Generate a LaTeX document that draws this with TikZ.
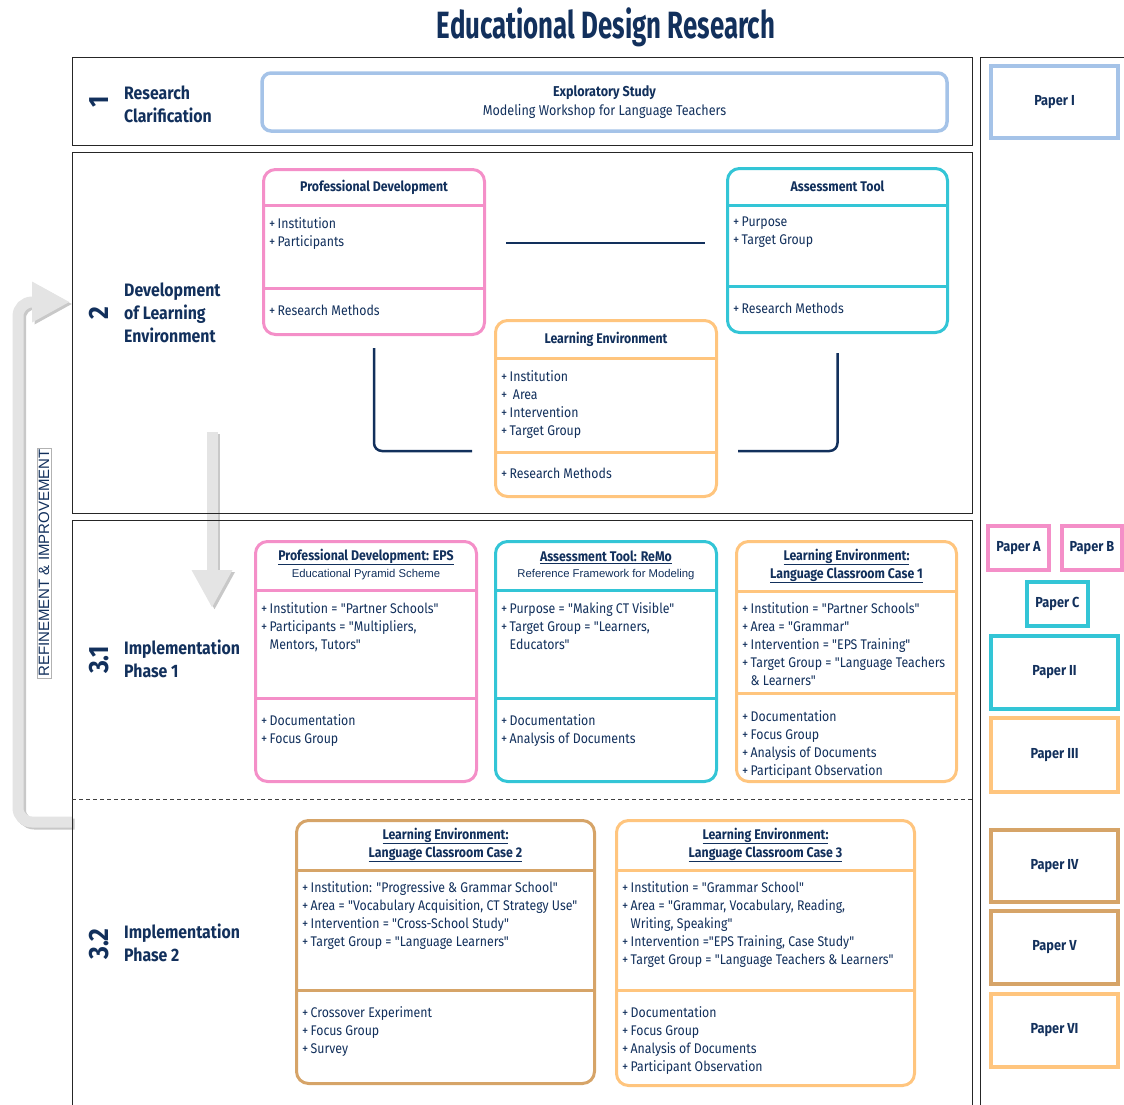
\documentclass[tikz,border=0pt]{standalone}
\usepackage{fontspec}
\setmainfont{Fira Sans}[FakeStretch=0.88, Ligatures=TeXOff]
\newfontfamily\titlefont{Fira Sans}[FakeStretch=0.68]
\newfontfamily\arialfont{Liberation Sans}
\usetikzlibrary{positioning, arrows.meta, calc}

\definecolor{navy}{HTML}{12305C}
\definecolor{pinkc}{HTML}{F48FC8}
\definecolor{cyanc}{HTML}{33C5D6}
\definecolor{orangec}{HTML}{FFC57E}
\definecolor{tanc}{HTML}{D6A468}
\definecolor{bluec}{HTML}{A5C3E8}
\definecolor{arrowgray}{HTML}{E4E4E4}
\definecolor{shadegray}{HTML}{C8C8C8}

\tikzset{
  frame/.style={draw=black!85, line width=1pt, inner sep=0pt},
  umlbox/.style={draw=#1, line width=3pt, rounded corners=12pt, fill=white, inner sep=0pt, anchor=north west},
  divider/.style={draw=#1, line width=3pt},
  paper/.style={draw=#1, line width=3.5pt, text=navy, inner sep=0pt, font=\bfseries\fontsize{14.5}{14.5}\selectfont},
  hd/.style={text=navy, inner sep=0pt, align=center, font=\bfseries\fontsize{14}{18}\selectfont},
  subhd/.style={text=navy, inner sep=0pt, font=\arialfont\fontsize{11.3}{12}\selectfont},
  item/.style={text=navy, inner sep=0pt, align=left, anchor=north west, font=\fontsize{14}{18}\selectfont},
  phase/.style={text=navy, inner sep=0pt, align=left, anchor=west, font=\bfseries\fontsize{18}{23}\selectfont},
  num/.style={text=navy, inner sep=0pt, rotate=90, font=\bfseries\fontsize{28}{28}\selectfont},
  link/.style={draw=navy, line width=2.5pt, rounded corners=8pt},
  garrow/.style={draw=arrowgray, line width=11pt, -{Triangle[width=38pt,length=38pt]}},
  gshadow/.style={garrow, draw=shadegray, transform canvas={xshift=2.5pt, yshift=-2pt}}
}

\begin{document}
\begin{tikzpicture}[x=1pt, y=-1pt]
\useasboundingbox (0,0) rectangle (1124,1104);

\node[text=navy, font=\titlefont\bfseries\fontsize{38}{38}\selectfont] (title) at (606,27) {Educational Design Research};

% feedback arrows
\coordinate (dnA) at (212,432);
\coordinate (dnB) at (212,608);
\coordinate (lpA) at (72,822);
\coordinate (lpB) at (70,302);
\draw[gshadow] (dnA) -- (dnB);
\draw[garrow] (dnA) -- (dnB);
\draw[gshadow, rounded corners=14pt] (lpA) -| (18,302) -- (lpB);
\draw[garrow, rounded corners=14pt] (lpA) -| (18,302) -- (lpB);
\node[draw=black!30, line width=0.4pt, inner sep=1.5pt, rotate=90, text=navy, font=\arialfont\fontsize{15}{15}\selectfont] (refine) at (44,563) {REFINEMENT \& IMPROVEMENT};

% frames
\node[frame, anchor=north west, minimum width=900, minimum height=88] (sec1) at (72,57) {};
\node[frame, anchor=north west, minimum width=900, minimum height=361] (sec2) at (72,152) {};
\node[frame, anchor=north west, minimum width=900, minimum height=592] (sec3) at (72,520) {};
\draw[frame] (1130,57) -| (980,1110);
\draw[black!75, line width=0.8pt, dash pattern=on 4pt off 3pt] (sec3.west |- 0,799) -- (sec3.east |- 0,799);

% phase labels
\node[num] (n1) at (99,102) {1};
\node[phase] (l1) at (124,104) {Research\\Clarification};
\node[num] (n2) at (99,313) {2};
\node[phase] (l2) at (124,313) {Development\\of Learning\\Environment};
\node[num] (n31) at (99,660) {3.1};
\node[phase] (l31) at (124,658.5) {Implementation\\Phase 1};
\node[num] (n32) at (99,944) {3.2};
\node[phase] (l32) at (124,942.5) {Implementation\\Phase 2};

% 1 research clarification
\node[draw=bluec, line width=3.5pt, rounded corners=9pt, minimum width=685, minimum height=58, align=center, text=navy, font=\fontsize{14.3}{19}\selectfont] (expl) at (604.5,102) {{\bfseries Exploratory Study}\\Modeling Workshop for Language Teachers};

% 2 development
\node[umlbox=pinkc, minimum width=221, minimum height=165] (pd) at (262,168) {};
\draw[divider=pinkc] (pd.west |- 0,205) -- (pd.east |- 0,205);
\draw[divider=pinkc] (pd.west |- 0,288) -- (pd.east |- 0,288);
\node[hd] (pdt) at (pd.north |- 0,187) {Professional Development};
\node[item] (pda) at (269,217.5) {+\,Institution\\+\,Participants};
\node[item] (pdm) at (269,304.5) {+\,Research Methods};

\node[umlbox=cyanc, minimum width=220, minimum height=164] (at) at (726,167) {};
\draw[divider=cyanc] (at.west |- 0,205) -- (at.east |- 0,205);
\draw[divider=cyanc] (at.west |- 0,286) -- (at.east |- 0,286);
\node[hd] (att) at (at.north |- 0,186) {Assessment Tool};
\node[item] (ata) at (733,216.5) {+\,Purpose\\+\,Target Group};
\node[item] (atm) at (733,302.5) {+\,Research Methods};

\node[umlbox=orangec, minimum width=221, minimum height=176] (le) at (494,319) {};
\draw[divider=orangec] (le.west |- 0,358) -- (le.east |- 0,358);
\draw[divider=orangec] (le.west |- 0,452) -- (le.east |- 0,452);
\node[hd] (let) at (le.north |- 0,339) {Learning Environment};
\node[item] (lea) at (501,370.5) {+\,Institution\\+\ \,Area\\+\,Intervention\\+\,Target Group};
\node[item] (lem) at (501,467.5) {+\,Research Methods};

\draw[link, shorten <=20pt, shorten >=21pt] (pd.east |- 0,243) -- (at.west |- 0,243);
\draw[link] ([yshift=-12pt]pd.south) |- ([xshift=-22pt]le.west |- 0,451);
\draw[link] ([yshift=-19pt]at.south) |- ([xshift=20pt]le.east |- 0,451);

% 3.1 implementation phase 1
\node[umlbox=pinkc, minimum width=221, minimum height=240] (eps) at (254,540) {};
\draw[divider=pinkc] (eps.west |- 0,590) -- (eps.east |- 0,590);
\draw[divider=pinkc] (eps.west |- 0,698) -- (eps.east |- 0,698);
\node[hd] (epst) at (eps.north |- 0,557) {\underline{Professional Development: EPS}};
\node[subhd] (epss) at (eps.north |- 0,575) {Educational Pyramid Scheme};
\node[item] (epsa) at (261,602.5) {+\,Institution = "Partner Schools"\\+\,Participants = "Multipliers,\\\phantom{+\,}Mentors, Tutors"};
\node[item] (epsm) at (261,714.5) {+\,Documentation\\+\,Focus Group};

\node[umlbox=cyanc, minimum width=221, minimum height=240] (remo) at (494,540) {};
\draw[divider=cyanc] (remo.west |- 0,590) -- (remo.east |- 0,590);
\draw[divider=cyanc] (remo.west |- 0,698) -- (remo.east |- 0,698);
\node[hd] (remot) at (remo.north |- 0,557) {\underline{Assessment Tool: ReMo}};
\node[subhd] (remos) at (remo.north |- 0,575) {Reference Framework for Modeling};
\node[item] (remoa) at (501,602.5) {+\,Purpose = "Making CT Visible"\\+\,Target Group = "Learners,\\\phantom{+\,}Educators"};
\node[item] (remom) at (501,714.5) {+\,Documentation\\+\,Analysis of Documents};

\node[umlbox=orangec, minimum width=220, minimum height=240] (lec1) at (735,540) {};
\draw[divider=orangec] (lec1.west |- 0,591) -- (lec1.east |- 0,591);
\draw[divider=orangec] (lec1.west |- 0,693) -- (lec1.east |- 0,693);
\node[hd] (lec1t) at (lec1.north |- 0,566) {\underline{Learning Environment:}\\\underline{Language Classroom Case 1}};
\node[item] (lec1a) at (742,602.5) {+\,Institution = "Partner Schools"\\+\,Area = "Grammar"\\+\,Intervention = "EPS Training"\\+\,Target Group = "Language Teachers\\\phantom{+\,}\&\ Learners"};
\node[item] (lec1m) at (742,710.5) {+\,Documentation\\+\,Focus Group\\+\,Analysis of Documents\\+\,Participant Observation};

% 3.2 implementation phase 2
\node[umlbox=tanc, minimum width=298, minimum height=263] (lec2) at (295,819) {};
\draw[divider=tanc] (lec2.west |- 0,870) -- (lec2.east |- 0,870);
\draw[divider=tanc] (lec2.west |- 0,990) -- (lec2.east |- 0,990);
\node[hd] (lec2t) at (lec2.north |- 0,845) {\underline{Learning Environment:}\\\underline{Language Classroom Case 2}};
\node[item] (lec2a) at (302,881.5) {+\,Institution: "Progressive \& Grammar School"\\+\,Area = "Vocabulary Acquisition, CT Strategy Use"\\+\,Intervention = "Cross-School Study"\\+\,Target Group = "Language Learners"};
\node[item] (lec2m) at (302,1006.5) {+\,Crossover Experiment\\+\,Focus Group\\+\,Survey};

\node[umlbox=orangec, minimum width=298, minimum height=265] (lec3) at (615,819) {};
\draw[divider=orangec] (lec3.west |- 0,870) -- (lec3.east |- 0,870);
\draw[divider=orangec] (lec3.west |- 0,990) -- (lec3.east |- 0,990);
\node[hd] (lec3t) at (lec3.north |- 0,845) {\underline{Learning Environment:}\\\underline{Language Classroom Case 3}};
\node[item] (lec3a) at (622,881.5) {+\,Institution = "Grammar School"\\+\,Area = "Grammar, Vocabulary, Reading,\\\phantom{+\,}Writing, Speaking"\\+\,Intervention ="EPS Training, Case Study"\\+\,Target Group = "Language Teachers \& Learners"};
\node[item] (lec3m) at (622,1006.5) {+\,Documentation\\+\,Focus Group\\+\,Analysis of Documents\\+\,Participant Observation};

% papers
\node[paper=bluec, minimum width=127, minimum height=72] (p1) at (1054.5,102) {Paper I};
\node[paper=pinkc, minimum width=61, minimum height=44] (pA) at (1018.5,548) {Paper A};
\node[paper=pinkc, minimum width=60, minimum height=44] (pB) at (1092,548) {Paper B};
\node[paper=cyanc, minimum width=61, minimum height=44] (pC) at (1057.5,604) {Paper C};
\node[paper=cyanc, minimum width=127, minimum height=73] (p2) at (1054.5,672.5) {Paper II};
\node[paper=orangec, minimum width=127, minimum height=74] (p3) at (1054.5,755) {Paper III};
\node[paper=tanc, minimum width=127, minimum height=72] (p4) at (1054.5,866) {Paper IV};
\node[paper=tanc, minimum width=127, minimum height=73] (p5) at (1054.5,947.5) {Paper V};
\node[paper=orangec, minimum width=127, minimum height=73] (p6) at (1054.5,1030.5) {Paper VI};
\end{tikzpicture}
\end{document}
